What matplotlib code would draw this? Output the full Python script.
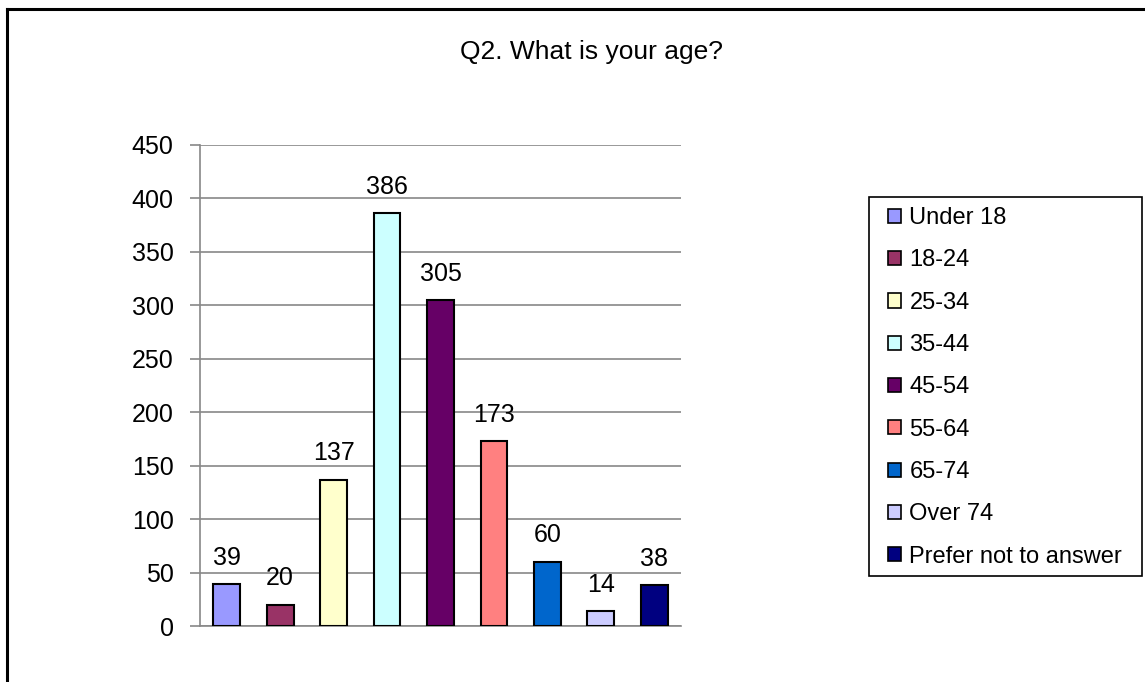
import matplotlib
matplotlib.use("Agg")
import matplotlib.pyplot as plt
from matplotlib.lines import Line2D
from matplotlib.patches import Patch, Rectangle

categories = ["Under 18", "18-24", "25-34", "35-44", "45-54", "55-64", "65-74", "Over 74", "Prefer not to answer"]
values = [39, 20, 137, 386, 305, 173, 60, 14, 38]
colors = ["#9999FF", "#993366", "#FFFFCC", "#CCFFFF", "#660066", "#FF8080", "#0066CC", "#CCCCFF", "#000080"]
yticks = [0, 50, 100, 150, 200, 250, 300, 350, 400, 450]
title = "Q2. What is your age?"

plt.rcParams['font.family'] = ['Liberation Sans', 'DejaVu Sans']

W, H = 1145, 682
fig = plt.figure(figsize=(W / 100, H / 100), dpi=100)
fig.patch.set_facecolor("white")

# outer chart border (left and top visible)
fig.add_artist(Line2D([7 / W, 7 / W], [0, 1 - 9 / H], transform=fig.transFigure, color="black", lw=2.2))
fig.add_artist(Line2D([7 / W, 1], [1 - 9 / H, 1 - 9 / H], transform=fig.transFigure, color="black", lw=2.2))

ax = fig.add_axes([200 / W, 1 - 626 / H, (681 - 200) / W, (626 - 145) / H])
x = list(range(len(categories)))
bars = ax.bar(x, values, width=0.5, color=colors, edgecolor="black", linewidth=1.5, zorder=3)
ax.set_xlim(-0.5, len(categories) - 0.5)
ax.set_ylim(0, 450)
ax.set_yticks(yticks)
ax.set_yticklabels([str(t) for t in yticks], fontsize=18)
ax.set_xticks([])
ax.tick_params(axis="y", length=7, width=1.2, color="#888888", pad=12)
ax.grid(axis="y", color="#888888", linewidth=1.2, zorder=0)
for s in ["top", "right"]:
    ax.spines[s].set_visible(False)
ax.spines["left"].set_color("#888888")
ax.spines["left"].set_linewidth(1.2)
ax.spines["bottom"].set_color("#888888")
ax.spines["bottom"].set_linewidth(1.2)

for xi, v in zip(x, values):
    ax.annotate(str(v), (xi, v), xytext=(0, 14), textcoords="offset points",
                ha="center", va="baseline", fontsize=18)

fig.text(592 / W, 1 - 52 / H, title, ha="center", va="center", fontsize=19)

# legend frame
fig.add_artist(Rectangle((869 / W, 1 - 576 / H), (1142 - 869) / W, (576 - 197) / H,
                         transform=fig.transFigure, facecolor="white",
                         edgecolor="black", linewidth=1.2, zorder=1))
handles = [Patch(facecolor=c, edgecolor="black", linewidth=1.2) for c in colors]
leg = fig.legend(handles, categories, loc="upper left",
                 bbox_to_anchor=(874 / W, 1 - 193 / H), fontsize=17,
                 frameon=False,
                 handlelength=0.55, handleheight=0.55, handletextpad=0.35,
                 labelspacing=0.86, borderpad=0.6, borderaxespad=0)
leg.set_zorder(2)

fig.savefig("out.png", dpi=100)
